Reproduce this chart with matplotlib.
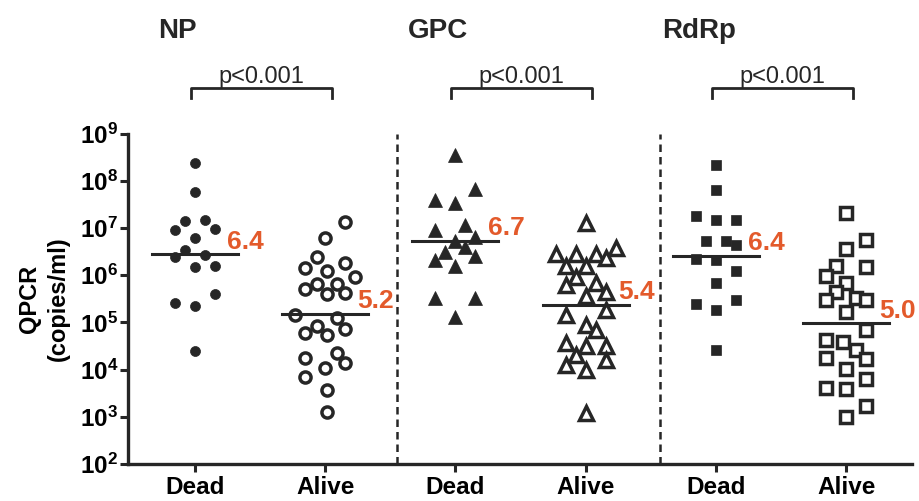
import numpy as np
import matplotlib
matplotlib.use('Agg')
import matplotlib.pyplot as plt
from matplotlib.ticker import FixedLocator

plt.rcParams['font.family'] = ['Liberation Sans', 'DejaVu Sans']
plt.rcParams['mathtext.fontset'] = 'custom'
plt.rcParams['mathtext.rm'] = 'Liberation Sans:bold'
plt.rcParams['mathtext.bf'] = 'Liberation Sans:bold'

# gene panels and groups
genes = ['NP', 'GPC', 'RdRp']
groups = ['Dead', 'Alive', 'Dead', 'Alive', 'Dead', 'Alive']

# log10 copies/ml, one list per column
np_dead = [8.38, 7.755, 7.14, 7.18, 6.95, 6.98, 6.79, 6.54, 6.38, 6.43, 6.17, 6.20, 5.61, 5.42, 5.34, 4.40]
np_alive = [7.12, 6.78, 6.38, 6.15, 6.27, 6.10, 5.97, 5.71, 5.82, 5.82, 5.61, 5.63, 5.16, 5.09, 4.78,
            4.93, 4.74, 4.86, 4.24, 4.35, 4.14, 4.03, 3.84, 3.57, 3.11]
gpc_dead = [8.55, 7.83, 7.59, 7.53, 7.07, 6.95, 6.72, 6.82, 6.50, 6.60, 6.33, 6.41, 6.19, 5.51, 5.51, 5.12]
gpc_alive = [7.11, 6.45, 6.45, 6.45, 6.58, 6.36, 6.19, 6.19, 5.97, 5.80, 5.83, 5.65, 5.55, 5.16, 5.27,
             4.95, 4.84, 4.56, 4.49, 4.49, 4.31, 4.10, 4.21, 3.99, 3.07]
rdrp_dead = [8.34, 7.81, 7.26, 7.18, 7.18, 6.72, 6.72, 6.65, 6.34, 6.33, 6.10, 5.83, 5.39, 5.48, 5.27, 4.42]
rdrp_alive = [7.33, 6.75, 6.55, 6.19, 6.17, 5.99, 5.83, 5.65, 5.48, 5.51, 5.48, 5.23, 4.84, 4.63, 4.59,
              4.42, 4.24, 4.22, 4.01, 3.80, 3.61, 3.58, 3.23, 3.00]

# scatter slot of every point (which side of the column it sits)
np_dead_slot = [0, 0, -1, 1, -2, 2, 0, -1, -2, 1, 0, 2, 2, -2, 0, 0]
np_alive_slot = [2, 0, -0.8, -2, 2, 0.2, 3, -2, -0.8, 1.2, 0.2, 2, -3, 1.2, -2,
                 -0.8, 0.2, 2, -2, 1.2, 2, 0, -2, 0.2, 0.2]
gpc_dead_slot = [0, 2, -2, 0, 1, -2, 0, 2, -1, 1, -2, 2, 0, -2, 2, 0]
gpc_alive_slot = [0, -3, -1, 1, 3, 2, -2, 0, -1, -2, 1, 2, 0, -2, 2,
                  0, 1, -2, 0, 2, -1, -2, 2, 0, 0]
rdrp_dead_slot = [0, 0, -2, 0, 2, -1, 1, 2, -2, 0, 2, 0, -2, 2, 0, 0]
rdrp_alive_slot = [0, 2, 0, -1, 2, -2, 0, -1, -2, 1, 2, 0, 2, -2, -0.3,
                   1, -2, 2, 0, 2, -2, 0, 2, 0]

# centre lines and their printed values
centre_log = [6.45, 5.18, 6.73, 5.37, 6.41, 4.98]
centre_text = ['6.4', '5.2', '6.7', '5.4', '6.4', '5.0']
p_text = ['p<0.001', 'p<0.001', 'p<0.001']

columns = [np_dead, np_alive, gpc_dead, gpc_alive, rdrp_dead, rdrp_alive]
slots = [np_dead_slot, np_alive_slot, gpc_dead_slot, gpc_alive_slot, rdrp_dead_slot, rdrp_alive_slot]

ink = '#262626'
orange = '#E35A2B'
styles = [
    dict(marker='o', ms=7.2, mfc=ink, mec=ink, mew=0.5),
    dict(marker='o', ms=8.0, mfc='white', mec=ink, mew=2.5),
    dict(marker='^', ms=9.6, mfc=ink, mec=ink, mew=0.5),
    dict(marker='^', ms=10.0, mfc='white', mec=ink, mew=2.5),
    dict(marker='s', ms=7.6, mfc=ink, mec=ink, mew=0.5),
    dict(marker='s', ms=8.0, mfc='white', mec=ink, mew=2.5),
]
slot_w = 0.077

fig = plt.figure(figsize=(9.2, 5.01), dpi=100)
ax = fig.add_axes([0.139, 0.074, 0.852, 0.659])

for i, (vals, sl) in enumerate(zip(columns, slots)):
    x = i + np.array(sl) * slot_w
    y = 10 ** np.array(vals)
    ax.plot(x, y, ls='none', zorder=3, clip_on=False, **styles[i])
    m = 10 ** centre_log[i]
    ax.plot([i - 0.33, i + 0.33], [m, m], color=ink, lw=2.2, zorder=4)
    ax.annotate(centre_text[i], (i + 0.25, m), xytext=(0, 9), textcoords='offset points',
                ha='left', va='center', color=orange, fontsize=19, fontweight='bold', zorder=5)

# dashed separators between genes
for xs in [1.55, 3.57]:
    ax.axvline(xs, color=ink, lw=1.8, ls=(0, (3.0, 2.0)), zorder=1)

ax.set_yscale('log')
ax.set_ylim(1e2, 1e9)
ax.set_xlim(-0.514, 5.503)
ax.yaxis.set_major_locator(FixedLocator([10.0 ** k for k in range(2, 10)]))
ax.yaxis.set_minor_locator(FixedLocator([]))
ax.set_yticklabels([r'$\mathbf{10^{%d}}$' % k for k in range(2, 10)], fontsize=17.5)
ax.set_xticks(range(6))
ax.set_xticklabels(groups, fontsize=17.5, fontweight='bold')
ax.tick_params(axis='both', direction='out', length=6, width=2.2, color=ink, pad=3)
ax.tick_params(axis='y', pad=1)

for s in ['top', 'right']:
    ax.spines[s].set_visible(False)
for s in ['left', 'bottom']:
    ax.spines[s].set_linewidth(2.4)
    ax.spines[s].set_color(ink)

ax.set_ylabel('QPCR\n(copies/ml)', fontsize=17, fontweight='bold', labelpad=7, linespacing=1.35)

# gene titles, brackets and p values above the axes
trans = ax.get_xaxis_transform()
for g, name in enumerate(genes):
    d = 2 * g
    ax.text(d - 0.13, 1.29, name, transform=trans, ha='center', va='baseline',
            fontsize=20, fontweight='bold', color=ink, clip_on=False)
    ax.plot([d - 0.03, d - 0.03, d + 1.05, d + 1.05], [1.109, 1.139, 1.139, 1.109],
            transform=trans, color=ink, lw=2, clip_on=False)
    ax.text(d + 0.51, 1.155, p_text[g], transform=trans, ha='center', va='baseline',
            fontsize=17, color=ink, clip_on=False)

fig.savefig('out.png', dpi=100)
